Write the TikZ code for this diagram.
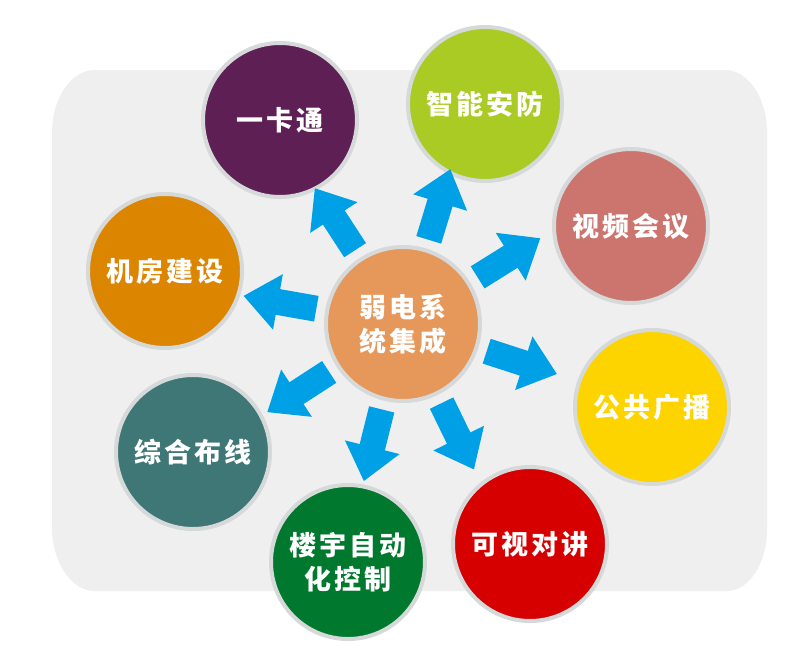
\documentclass[tikz,border=0pt]{standalone}
\usepackage{fontspec}
\newfontfamily\cjk{Noto Sans CJK SC}[BoldFont={Noto Sans CJK SC Black},LetterSpace=10]
\usetikzlibrary{arrows.meta,calc}
\definecolor{bggray}{HTML}{EFEFEF}
\definecolor{ring}{HTML}{D6D9D9}
\definecolor{arrowblue}{HTML}{00A0E6}
\definecolor{cPurple}{HTML}{5E1F55}
\definecolor{cLime}{HTML}{A9CB23}
\definecolor{cRose}{HTML}{CC756E}
\definecolor{cOrange}{HTML}{DB8500}
\definecolor{cCenter}{HTML}{E6975A}
\definecolor{cYellow}{HTML}{FDD300}
\definecolor{cRed}{HTML}{D70000}
\definecolor{cTeal}{HTML}{3E7776}
\definecolor{cGreen}{HTML}{00782D}
\tikzset{
  bub/.style={circle, minimum size=154pt, inner sep=0pt, line width=4pt, draw=ring,
    text=white, align=center, font=\cjk\bfseries\fontsize{27}{34}\selectfont},
  flow/.style={draw=arrowblue, line width=26pt, -{Triangle[length=35pt,width=54pt]}}
}
\begin{document}
\begin{tikzpicture}[x=1pt,y=-1pt]
\useasboundingbox (0,0) rectangle (800,659);
\fill[white] (0,0) rectangle (800,659);
% background panel
\fill[bggray] (52,133) .. controls (52,98) and (71,70) .. (95,70)
  -- (725,70) .. controls (748,70) and (767,98) .. (767,132)
  -- (767,530) .. controls (767,563) and (749,591) .. (727,591)
  -- (95,591) .. controls (71,591) and (52,562) .. (52,527) -- cycle;
% circles
\node[bub, fill=cCenter] (c) at (403,324) {弱电系\\统集成};
\node[bub, fill=cPurple] (ykt) at (280,120) {一卡通};
\node[bub, fill=cLime] (znaf) at (485,104) {智能安防};
\node[bub, fill=cRose] (sphy) at (631,226) {视频会议};
\node[bub, fill=cOrange] (jfjs) at (165,271) {机房建设};
\node[bub, fill=cYellow] (gggb) at (652,407) {公共广播};
\node[bub, fill=cRed] (kvdj) at (530,544) {可视对讲};
\node[bub, fill=cTeal] (zhbx) at (193,452) {综合布线};
\node[bub, fill=cGreen] (lyzd) at (348,562) {楼宇自动\\化控制};
% arrow end points
\foreach \n/\a in {1/123,2/73,3/32,4/170,5/-18,6/-64,7/-104,8/-147}{
  \coordinate (t\n) at ($(c.center)+(\a:88pt)$);
  \coordinate (h\n) at ($(c.center)+(\a:162pt)$);
}
\foreach \n in {1,...,8}{
  \draw[flow] (t\n) -- (h\n);
}
\end{tikzpicture}
\end{document}
